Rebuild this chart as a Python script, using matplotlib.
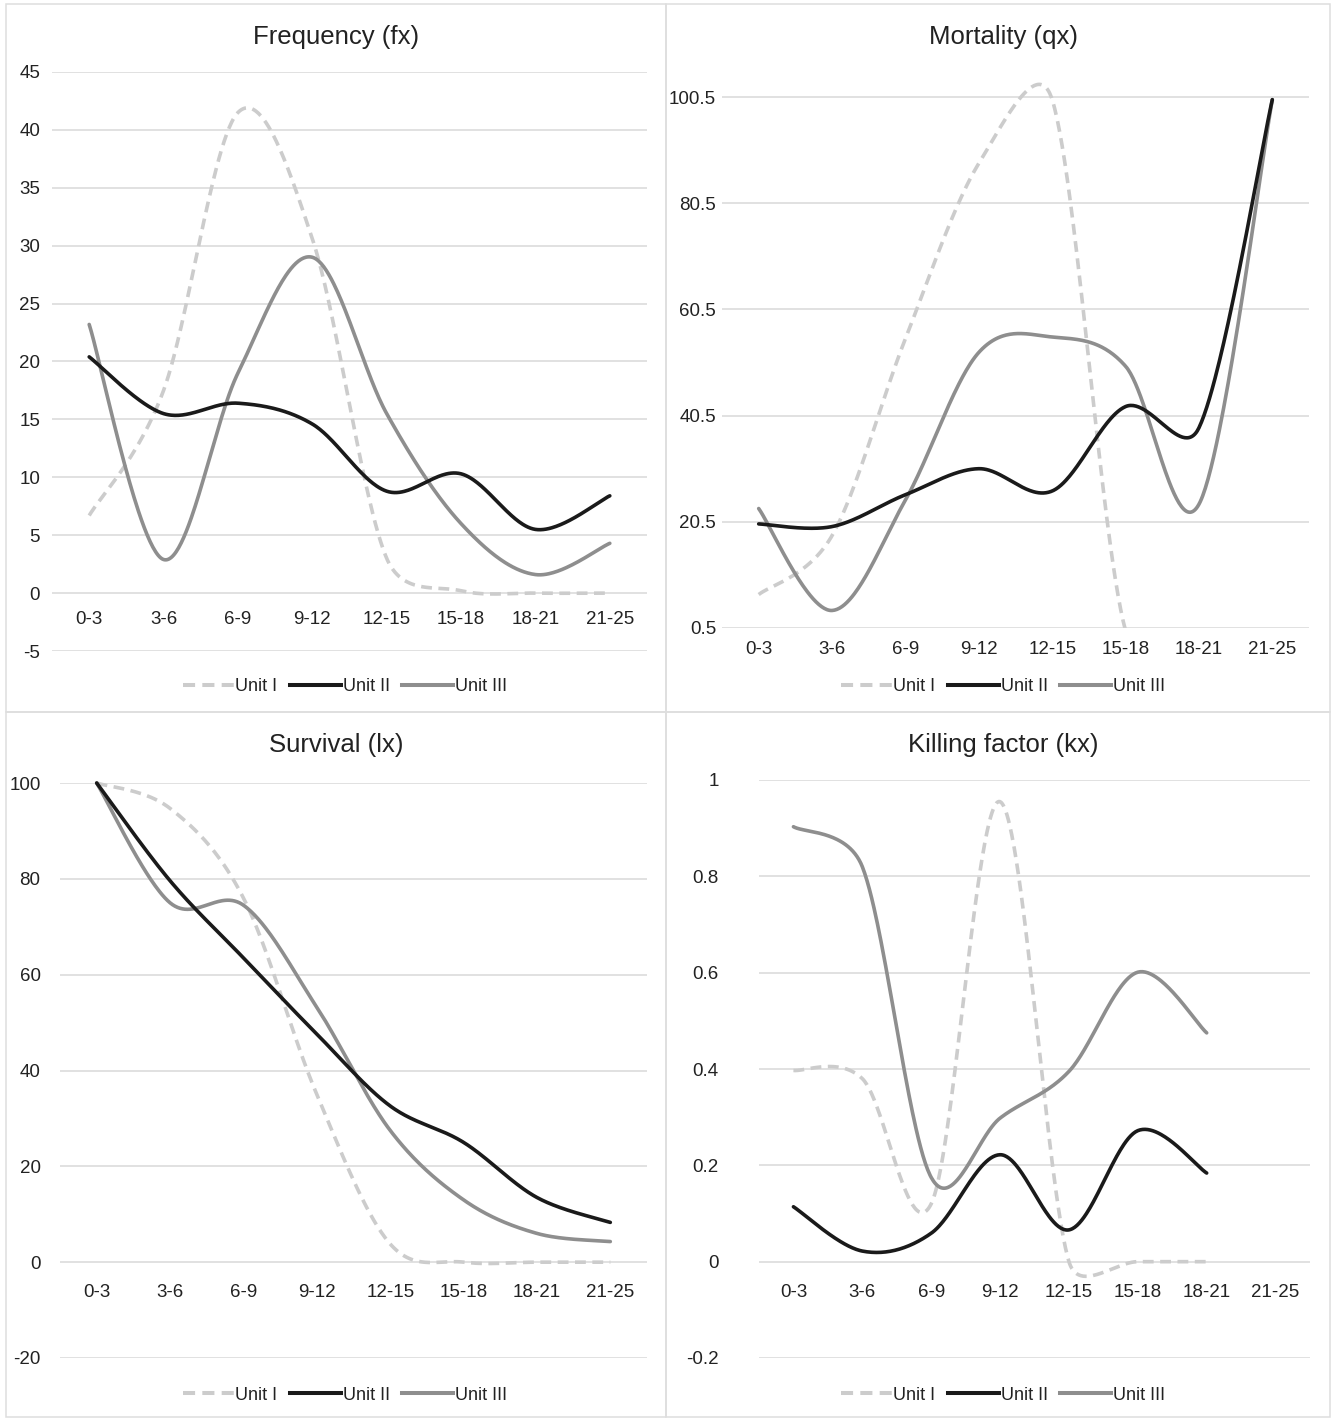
import numpy as np
import matplotlib
matplotlib.use('Agg')
import matplotlib.pyplot as plt
from matplotlib.patches import Rectangle
from matplotlib.lines import Line2D

plt.rcParams['font.family'] = ['Liberation Sans', 'DejaVu Sans']

# ---------------- data ----------------
categories = ['0-3', '3-6', '6-9', '9-12', '12-15', '15-18', '18-21', '21-25']
series_names = ['Unit I', 'Unit II', 'Unit III']

freq_unit1 = [6.7, 17.5, 41.5, 30.6, 3.0, 0.2, 0.0, 0.0]
freq_unit2 = [20.4, 15.5, 16.4, 14.6, 8.8, 10.3, 5.5, 8.4]
freq_unit3 = [23.2, 2.9, 19.0, 29.0, 15.5, 6.0, 1.6, 4.3]

mort_unit1 = [6.8, 17.9, 55.0, 88.0, 100.0, 0.0, 0.0, 0.0]
mort_unit2 = [20.1, 19.6, 25.6, 30.5, 26.3, 42.2, 38.2, 100.0]
mort_unit3 = [23.0, 3.8, 24.6, 52.4, 55.3, 49.8, 23.8, 100.0]

surv_unit1 = [100, 94.7, 76.0, 35.0, 3.8, 0.0, 0.0, 0.0]
surv_unit2 = [100, 79.6, 63.5, 47.6, 32.6, 25.0, 13.5, 8.3]
surv_unit3 = [100, 75.0, 74.5, 53.2, 27.5, 13.0, 6.0, 4.3]

kill_unit1 = [0.397, 0.38, 0.12, 0.955, 0.0, 0.0, 0.0, np.nan]
kill_unit2 = [0.114, 0.022, 0.059, 0.222, 0.066, 0.272, 0.184, np.nan]
kill_unit3 = [0.903, 0.82, 0.175, 0.298, 0.395, 0.601, 0.475, np.nan]

freq_ticks = [-5, 0, 5, 10, 15, 20, 25, 30, 35, 40, 45]
mort_ticks = [0.5, 20.5, 40.5, 60.5, 80.5, 100.5]
surv_ticks = [-20, 0, 20, 40, 60, 80, 100]
kill_ticks = [-0.2, 0, 0.2, 0.4, 0.6, 0.8, 1]
kill_tick_labels = ['-0.2', '0', '0.2', '0.4', '0.6', '0.8', '1']

# ---------------- style ----------------
W, H = 1332, 1419
fig = plt.figure(figsize=(W / 100, H / 100), dpi=100)
fig.patch.set_facecolor('white')

colors = ['#cccccc', '#1a1a1a', '#8e8e8e']
dash = (0, (3.0, 1.8))
styles = [dash, '-', '-']
LW = 2.6
TXT = '#222222'
GRID = '#d9d9d9'


def add_ax(left, top, right, bottom):
    return fig.add_axes([left / W, 1 - bottom / H, (right - left) / W, (bottom - top) / H])


def excel_smooth(ax, xs, ys):
    pts_all = ax.transData.transform(np.column_stack([xs, ys]))
    valid = ~np.isnan(np.asarray(ys, dtype=float))
    runs, cur = [], []
    for i, v in enumerate(valid):
        if v:
            cur.append(pts_all[i])
        else:
            if cur:
                runs.append(np.array(cur))
            cur = []
    if cur:
        runs.append(np.array(cur))
    out = []
    t = np.linspace(0, 1, 60)[:, None]
    for pts in runs:
        n = len(pts)
        seg = []
        for i in range(n - 1):
            p1, p2 = pts[i], pts[i + 1]
            p0 = pts[i - 1] if i > 0 else p1
            p3 = pts[i + 2] if i + 2 < n else p2
            d12 = np.hypot(*(p2 - p1))
            d02 = np.hypot(*(p2 - p0))
            d13 = np.hypot(*(p3 - p1))
            f = 1 / 6
            f0 = f if d02 * f < d12 / 2 or d02 == 0 else (d12 / 2) / d02
            f1 = f if d13 * f < d12 / 2 or d13 == 0 else (d12 / 2) / d13
            c1 = p1 + (p2 - p0) * f0
            c2 = p2 - (p3 - p1) * f1
            b = ((1 - t) ** 3) * p1 + 3 * ((1 - t) ** 2) * t * c1 + 3 * (1 - t) * t ** 2 * c2 + t ** 3 * p2
            seg.append(b if i == 0 else b[1:])
        curve = np.vstack(seg)
        out.append(ax.transData.inverted().transform(curve))
    return out


def make_panel(box, title, title_xy, data, yticks, ylim, yticklabels, ypad, xpad,
               legend_xy, clip, zero_axis):
    ax = add_ax(*box)
    ax.set_xlim(-0.5, len(categories) - 0.5)
    ax.set_ylim(*ylim)
    ax.set_yticks(yticks)
    ax.set_yticklabels(yticklabels)
    ax.set_xticks(range(len(categories)))
    ax.set_xticklabels(categories)
    for s in ax.spines.values():
        s.set_visible(False)
    if zero_axis:
        ax.spines['bottom'].set_position(('data', 0))
    ax.tick_params(axis='both', length=0, labelsize=13.5, colors=TXT)
    ax.tick_params(axis='y', pad=ypad)
    ax.tick_params(axis='x', pad=xpad)
    ax.yaxis.grid(True, color=GRID, lw=1.1)
    ax.set_axisbelow(True)
    xs = np.arange(len(categories))
    for k, ys in enumerate(data):
        for c in excel_smooth(ax, xs, ys):
            ax.plot(c[:, 0], c[:, 1], color=colors[k], ls=styles[k], lw=LW,
                    clip_on=clip, solid_capstyle='round', dash_capstyle='butt', zorder=3 + (k == 1))
    fig.text(title_xy[0] / W, 1 - title_xy[1] / H, title, ha='center', va='center',
             fontsize=18.5, color=TXT)
    handles = [Line2D([], [], color=colors[k], ls=styles[k], lw=LW + 0.3) for k in range(3)]
    fig.legend(handles, series_names, loc='center', ncol=3, frameon=False,
               bbox_to_anchor=(legend_xy[0] / W, 1 - legend_xy[1] / H),
               fontsize=13, handlelength=2.8, handletextpad=0.1, columnspacing=0.7,
               labelcolor=TXT, borderpad=0)
    return ax


make_panel((52, 72, 647, 651), 'Frequency (fx)', (336, 37),
           [freq_unit1, freq_unit2, freq_unit3], freq_ticks, (-5, 45),
           [str(v) for v in freq_ticks], 8.6, 13, (345, 687), False, True)

make_panel((722, 70, 1309, 628), 'Mortality (qx)', (1003, 37),
           [mort_unit1, mort_unit2, mort_unit3], mort_ticks,
           (0.5, 100.5 + (97 - 70) / 5.31),
           [str(v) for v in mort_ticks], 4.3, 9, (1003, 687), True, False)

make_panel((60, 783, 647, 1358), 'Survival (lx)', (336, 745),
           [surv_unit1, surv_unit2, surv_unit3], surv_ticks, (-20, 100),
           [str(v) for v in surv_ticks], 14, 16, (345, 1395), False, True)

make_panel((759, 780, 1310, 1358), 'Killing factor (kx)', (1003, 745),
           [kill_unit1, kill_unit2, kill_unit3], kill_ticks, (-0.2, 1.0),
           kill_tick_labels, 29, 16, (1003, 1395), False, True)

# panel borders
for (l, t, r, b) in [(6, 4, 666, 712), (666, 4, 1330, 712), (6, 712, 666, 1417), (666, 712, 1330, 1417)]:
    fig.add_artist(Rectangle((l / W, 1 - b / H), (r - l) / W, (b - t) / H,
                             transform=fig.transFigure, fill=False, ec='#dedede', lw=1.1))

fig.savefig('out.png', dpi=100, facecolor='white')
